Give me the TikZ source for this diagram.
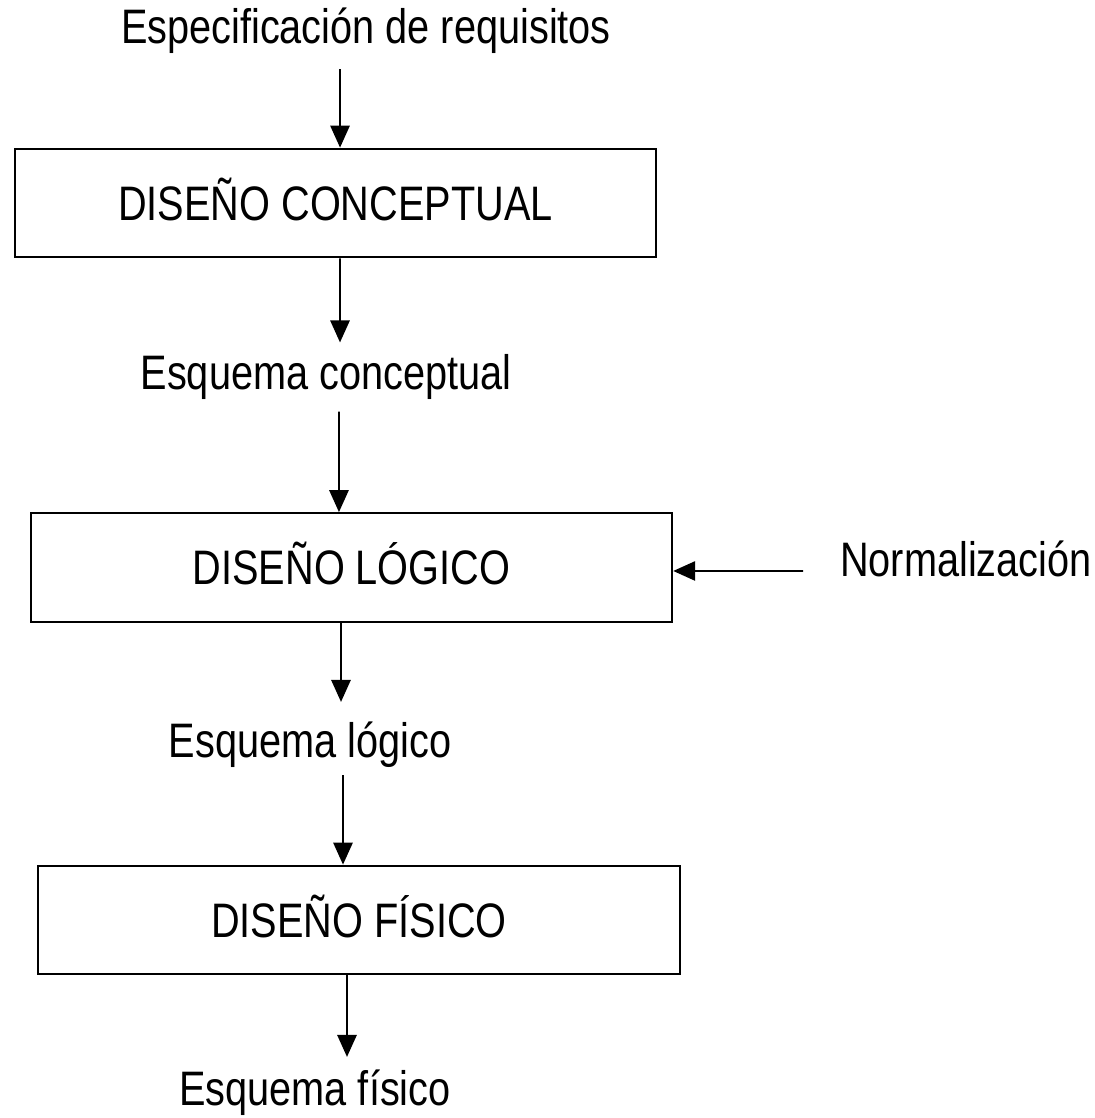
\documentclass[tikz,border=0pt]{standalone}
\usepackage{fontspec}
\setmainfont{Liberation Sans}[FakeStretch=0.82]
\usetikzlibrary{arrows.meta}

\tikzset{
  etapa/.style={draw, line width=1.6pt, minimum width=481pt, minimum height=81.5pt, inner sep=0pt, text height=26pt, text depth=0pt},
  texto/.style={inner sep=0pt, text height=26pt, text depth=0pt},
  flecha/.style={line width=1.4pt, -{Triangle[length=16.5pt,width=14.5pt]}}
}

\begin{document}
\begin{tikzpicture}[x=0.75pt, y=-0.75pt, font=\fontsize{36.3pt}{43pt}\selectfont]
\useasboundingbox (0,0) rectangle (1095,1118);
% etapas del diseno
\node[etapa] (dc) at (335.5,203) {DISEÑO CONCEPTUAL};
  \node[etapa] (dl) at (351.5,567.5) {DISEÑO LÓGICO};
  \node[etapa] (df) at (359,920) {DISEÑO FÍSICO};
% entradas y salidas
  \node[texto] (req) at (366,26.5) {Especificación de requisitos};
  \node[texto] (ec) at (326,372) {Esquema conceptual};
  \node[texto] (el) at (310,740.5) {Esquema lógico};
  \node[texto] (ef) at (315,1088.5) {Esquema físico};
  \node[texto, anchor=west] (norm) at (840,559) {Normalización};
% flechas
  \draw[flecha] ([xshift=-19.5pt,yshift=-18.75pt]req.south) -- ([xshift=3.4pt]dc.north);
  \draw[flecha] ([xshift=3.4pt]dc.south) -- ([xshift=10.5pt,yshift=9pt]ec.north);
  \draw[flecha] ([xshift=9.75pt,yshift=-16.5pt]ec.south) -- ([xshift=-9.4pt]dl.north);
  \draw[flecha] ([xshift=-7.9pt]dl.south) -- ([xshift=23.25pt,yshift=15.75pt]el.north);
  \draw[flecha] ([xshift=24.75pt,yshift=-12.75pt]el.south) -- ([xshift=-12pt]df.north);
  \draw[flecha] ([xshift=-9pt]df.south) -- ([xshift=24pt,yshift=10.5pt]ef.north);
  \draw[flecha] ([xshift=-27.75pt,yshift=-9pt]norm.west) -- ([yshift=-2.6pt]dl.east);
\end{tikzpicture}
\end{document}
